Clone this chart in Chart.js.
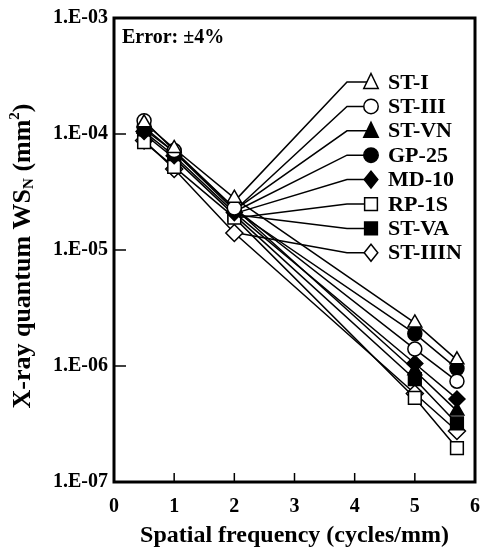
<!DOCTYPE html>
<html>
<head>
<meta charset="utf-8">
<script src="https://cdn.jsdelivr.net/npm/chart.js@4.4.0/dist/chart.umd.min.js"></script>
<style>
  html, body { margin: 0; padding: 0; background: #fff; }
  #wrap { width: 493px; height: 550px; }
</style>
</head>
<body>
<div id="wrap"><canvas id="wsChart" width="493" height="550"></canvas></div>
<script>
// spatial frequency (cycles/mm)
let freqs = [0.5, 1, 2, 5, 5.7];

let seriesNames = ['ST-I', 'ST-III', 'ST-VN', 'GP-25', 'MD-10', 'RP-1S', 'ST-VA', 'ST-IIIN'];

// WS_N values (mm^2)
let stI    = [1.25e-4, 7.5e-5, 2.8e-5, 2.35e-6, 1.13e-6];
let stIII  = [1.30e-4, 7.2e-5, 2.3e-5, 1.40e-6, 7.4e-7];
let stVN   = [1.10e-4, 7.0e-5, 2.3e-5, 9.1e-7, 4.1e-7];
let gp25   = [1.15e-4, 7.0e-5, 2.2e-5, 1.90e-6, 9.5e-7];
let md10   = [1.05e-4, 6.5e-5, 2.1e-5, 1.05e-6, 5.2e-7];
let rp1s   = [8.5e-5, 5.2e-5, 1.9e-5, 5.3e-7, 1.96e-7];
let stVA   = [1.00e-4, 6.2e-5, 2.0e-5, 7.7e-7, 3.2e-7];
let stIIIN = [8.8e-5, 5.0e-5, 1.4e-5, 5.8e-7, 2.75e-7];

let yTickValues = [1e-7, 1e-6, 1e-5, 1e-4, 1e-3];
let xTickValues = [0, 1, 2, 3, 4, 5, 6];

let allSeries = [stI, stIII, stVN, gp25, md10, rp1s, stVA, stIIIN];

// marker look for each series
let shapes = ['triangle', 'circle', 'triangle', 'circle', 'rectRot', 'rect', 'rect', 'rectRot'];
let filled = [false, false, true, true, true, false, true, false];
let radii  = [8, 7, 8, 7, 8, 9, 9, 8.5];

let datasets = allSeries.map(function (vals, i) {
    return {
        label: seriesNames[i],
        data: vals.map(function (v, k) { return { x: freqs[k], y: v }; }),
        borderColor: '#000',
        borderWidth: 1.5,
        pointStyle: shapes[i],
        pointRadius: radii[i],
        pointBackgroundColor: filled[i] ? '#000' : '#fff',
        pointBorderColor: '#000',
        pointBorderWidth: 1.5,
        fill: false,
        tension: 0
    };
});

const FONT = '"Liberation Serif", "DejaVu Serif", serif';

function drawMarker(ctx, shape, fill, r, x, y) {
    ctx.save();
    ctx.beginPath();
    if (shape === 'circle') {
        ctx.arc(x, y, r * 0.85, 0, Math.PI * 2);
    } else if (shape === 'triangle') {
        ctx.moveTo(x, y - r);
        ctx.lineTo(x + r * 0.85, y + r * 0.75);
        ctx.lineTo(x - r * 0.85, y + r * 0.75);
        ctx.closePath();
    } else if (shape === 'rect') {
        let s = r * 0.75;
        ctx.rect(x - s, y - s, s * 2, s * 2);
    } else {
        ctx.moveTo(x, y - r);
        ctx.lineTo(x + r * 0.8, y);
        ctx.lineTo(x, y + r);
        ctx.lineTo(x - r * 0.8, y);
        ctx.closePath();
    }
    ctx.fillStyle = fill ? '#000' : '#fff';
    ctx.fill();
    ctx.lineWidth = 1.5;
    ctx.strokeStyle = '#000';
    ctx.stroke();
    ctx.restore();
}

// leader lines + labels, frame, inside ticks, y title
let decorations = {
    id: 'decorations',
    beforeDatasetsDraw: function (chart) {
        let ctx = chart.ctx;
        let area = chart.chartArea;
        ctx.save();
        ctx.strokeStyle = '#000';
        ctx.lineWidth = 1.5;
        chart.data.datasets.forEach(function (ds, i) {
            let pt = chart.getDatasetMeta(i).data[2];
            let rowY = area.top + 64 + i * 24.4;
            ctx.beginPath();
            ctx.moveTo(pt.x + 3, pt.y);
            ctx.lineTo(area.left + 233, rowY);
            ctx.lineTo(area.left + 257, rowY);
            ctx.stroke();
        });
        ctx.restore();
    },
    afterDraw: function (chart) {
        let ctx = chart.ctx;
        let area = chart.chartArea;
        let xs = chart.scales.x;
        let ys = chart.scales.y;

        // legend markers + names
        ctx.save();
        ctx.font = 'bold 22px ' + FONT;
        ctx.fillStyle = '#000';
        ctx.textBaseline = 'middle';
        ctx.textAlign = 'left';
        seriesNames.forEach(function (name, i) {
            let rowY = area.top + 64 + i * 24.4;
            drawMarker(ctx, shapes[i], filled[i], 8.5, area.left + 257, rowY);
            ctx.fillText(name, area.left + 274, rowY + 1);
        });
        ctx.restore();

        // frame
        ctx.save();
        ctx.strokeStyle = '#000';
        ctx.lineWidth = 3;
        ctx.strokeRect(area.left, area.top, area.right - area.left, area.bottom - area.top);

        // inside ticks
        ctx.lineWidth = 1.5;
        yTickValues.forEach(function (v) {
            let py = ys.getPixelForValue(v);
            ctx.beginPath();
            ctx.moveTo(area.left, py);
            ctx.lineTo(area.left + 12, py);
            ctx.stroke();
        });
        xTickValues.forEach(function (v) {
            let px = xs.getPixelForValue(v);
            ctx.beginPath();
            ctx.moveTo(px, area.bottom);
            ctx.lineTo(px, area.bottom - 9);
            ctx.stroke();
        });

        // error note
        ctx.font = 'bold 20px ' + FONT;
        ctx.fillStyle = '#000';
        ctx.textBaseline = 'middle';
        ctx.textAlign = 'left';
        ctx.fillText('Error: \u00b14%', area.left + 8, area.top + 20);

        // y axis title with subscript / superscript
        let big = 'bold 26px ' + FONT;
        let small = 'bold 15px ' + FONT;
        let parts = [
            { t: 'X-ray quantum WS', f: big, dy: 0 },
            { t: 'N', f: small, dy: 6 },
            { t: ' (mm', f: big, dy: 0 },
            { t: '2', f: small, dy: -8 },
            { t: ')', f: big, dy: 0 }
        ];
        let total = 0;
        parts.forEach(function (p) { ctx.font = p.f; p.w = ctx.measureText(p.t).width; total += p.w; });
        ctx.translate(23, (area.top + area.bottom) / 2 + 6);
        ctx.rotate(-Math.PI / 2);
        let cx = -total / 2;
        parts.forEach(function (p) {
            ctx.font = p.f;
            ctx.fillText(p.t, cx, p.dy);
            cx += p.w;
        });
        ctx.restore();
    }
};

let ctx = document.getElementById('wsChart').getContext('2d');
let wsChart = new Chart(ctx, {
    type: 'line',
    data: { datasets: datasets },
    options: {
        responsive: false,
        animation: false,
        layout: { padding: { top: 16, right: 6, left: 0, bottom: 0 } },
        plugins: {
            legend: { display: false },
            tooltip: { enabled: false }
        },
        scales: {
            x: {
                type: 'linear',
                min: 0,
                max: 6,
                afterBuildTicks: function (scale) {
                    scale.ticks = xTickValues.map(function (v) { return { value: v }; });
                },
                afterFit: function (scale) { scale.height = 68; },
                grid: { display: false, drawTicks: false },
                border: { display: false },
                ticks: {
                    color: '#000',
                    padding: 13,
                    font: { family: FONT, size: 20, weight: 'bold' }
                },
                title: {
                    display: true,
                    text: 'Spatial frequency (cycles/mm)',
                    color: '#000',
                    padding: { top: 0, bottom: 0 },
                    font: { family: FONT, size: 24, weight: 'bold' }
                }
            },
            y: {
                type: 'logarithmic',
                min: 1e-7,
                max: 1e-3,
                afterBuildTicks: function (scale) {
                    scale.ticks = yTickValues.map(function (v) { return { value: v }; });
                },
                afterFit: function (scale) { scale.width = 114; },
                grid: { display: false, drawTicks: false },
                border: { display: false },
                ticks: {
                    color: '#000',
                    padding: 6,
                    font: { family: FONT, size: 20, weight: 'bold' },
                    callback: function (v) {
                        let e = Math.round(Math.log10(v));
                        return '1.E-0' + Math.abs(e);
                    }
                }
            }
        }
    },
    plugins: [decorations]
});
</script>
</body>
</html>
